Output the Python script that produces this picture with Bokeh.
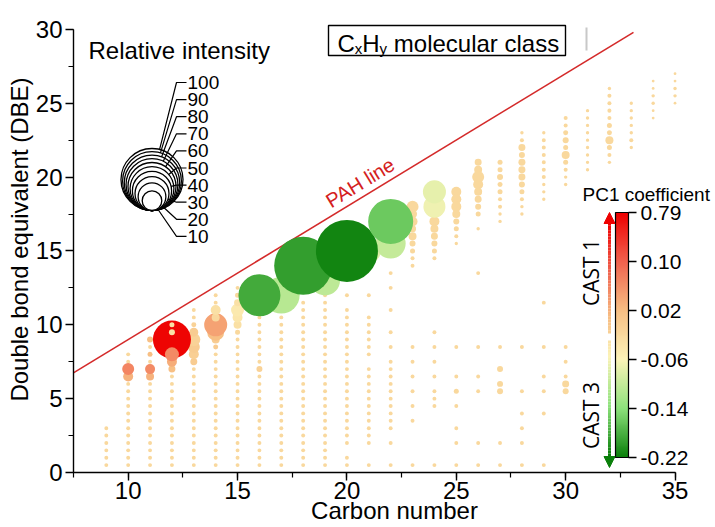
import numpy as np
from bokeh.plotting import figure
from bokeh.models import (ColumnDataSource, LinearColorMapper, ColorBar, FixedTicker,
                          Label, Arrow, NormalHead, Range1d, BoxAnnotation,
                          SingleIntervalTicker)
from bokeh.transform import linear_cmap
from bokeh.embed import file_html
from bokeh.resources import INLINE

# ---------------- colour scale (PC1 coefficient) ----------------
pc1_ticks = [-0.22, -0.14, -0.06, 0.02, 0.10, 0.79]
pc1_tick_labels = ["-0.22", "-0.14", "-0.06", "0.02", "0.10", "0.79"]
pc1_colors = ["#0a7f0a", "#8ee27c", "#fcf3b8", "#f7bf84", "#f0624e", "#ee0000"]

# ---------------- small dots: DBE values per carbon number ----------------
col_09 = [0.5, 1, 1.5, 2, 2.5, 3]
col_10 = [0.5, 1, 1.5, 2, 2.5, 3, 3.5, 4, 4.5, 5, 5.5, 6, 7.5, 8]
col_11 = [0.5, 1, 1.5, 2, 2.5, 3, 3.5, 4, 4.5, 5, 5.5, 6, 7.5, 8.5]
col_12 = [0.5, 1, 1.5, 2, 2.5, 3, 3.5, 4, 4.5, 5, 5.5, 6, 6.5]
col_13 = [0.5, 1, 1.5, 2, 2.5, 3, 3.5, 4, 4.5, 5, 5.5, 6, 6.5, 7, 10.5, 11]
col_14 = [0.5, 1, 1.5, 2, 2.5, 3, 3.5, 4, 4.5, 5, 5.5, 6, 6.5, 7, 7.5, 8, 11.5, 12]
col_15 = [0.5, 1, 1.5, 2, 2.5, 3, 3.5, 4, 4.5, 5, 5.5, 6, 6.5, 7, 7.5, 8, 8.5, 9, 12.5]
col_16 = [0.5, 1, 1.5, 2, 2.5, 3, 3.5, 4, 4.5, 5, 5.5, 6, 6.5, 7.5, 8, 8.5, 9, 9.5, 10, 10.5]
col_17 = [0.5, 1, 1.5, 2, 2.5, 3, 3.5, 4, 4.5, 5, 5.5, 6, 6.5, 7, 7.5, 8, 8.5, 9, 9.5, 10, 10.5]
col_18 = [0.5, 1, 1.5, 2, 2.5, 3, 3.5, 4, 4.5, 5, 5.5, 6, 6.5, 7, 7.5, 8, 8.5, 9, 9.5, 10, 10.5, 11, 11.5]
col_19 = [0.5, 1, 1.5, 2, 2.5, 3, 3.5, 4, 4.5, 5, 5.5, 6, 6.5, 7, 7.5, 8, 8.5, 9, 9.5, 10, 10.5, 11, 11.5, 12]
col_20 = [0.5, 1, 2, 2.5, 3, 3.5, 4, 4.5, 5, 5.5, 6, 6.5, 7, 7.5, 8, 8.5, 9, 9.5, 10, 10.5, 11, 12]
col_21 = [0.5, 2, 2.5, 3, 3.5, 4, 4.5, 5, 5.5, 6, 6.5, 7, 8, 8.5, 9, 9.5, 10, 10.5, 12]
col_22 = [0.5, 2, 3, 3.5, 4, 4.5, 5, 5.5, 6, 6.5, 7, 7.5, 8.5, 9.5, 11, 12.5, 13.5]
col_23 = [0.5, 3.5, 4.5, 5.5, 6.5, 7.5, 8.5, 14]
col_24 = [0.5, 4.5, 5, 5.5, 6.5, 7.5, 8.5, 9.5]
col_25 = [0.5, 2, 3, 4.5, 6.5, 8.5]
col_26 = [0.5, 2, 5.5, 6.5, 8.5, 13.5]
col_27 = [0.5, 2, 8.5]
col_28 = [0.5, 2, 3, 4, 5.5, 8.5]
col_29 = [0.5, 4, 5.5, 6.5, 8.5, 11.5]
col_30 = [6.5, 7.5, 8.5]
small_cols = {9: col_09, 10: col_10, 11: col_11, 12: col_12, 13: col_13, 14: col_14,
              15: col_15, 16: col_16, 17: col_17, 18: col_18, 19: col_19, 20: col_20,
              21: col_21, 22: col_22, 23: col_23, 24: col_24, 25: col_25, 26: col_26,
              27: col_27, 28: col_28, 29: col_29, 30: col_30}
small_int = 0.4      # relative intensity of the faint dots
small_pc1 = -0.02    # PC1 coefficient of the faint dots

# ---------------- upper-right clusters: (DBE, relative intensity) ----------------
up_23 = [(18, 3.75), (17.5, 2.1), (17, 2.6), (16.5, 1.3), (16, 1.66), (15.5, 0.94), (15, 0.65), (14.5, 0.42)]
up_24 = [(17, 2.6), (16.5, 1.66), (16, 1.27), (15.5, 0.94), (15, 0.65), (14.5, 0.42)]
up_25 = [(19, 2.6), (18.5, 2.6), (18, 2.6), (17.5, 1.66), (17, 0.94), (16.5, 0.65), (16, 0.42), (15.5, 0.3), (5.5, 0.65)]
up_26 = [(21, 1.27), (20.5, 1.66), (20, 3.75), (19.5, 2.6), (19, 1.66), (18.5, 1.27), (18, 0.94), (17.5, 0.65), (16.5, 0.3)]
up_27 = [(21, 0.65), (20.5, 0.65), (20, 0.94), (19.5, 0.65), (19, 0.65), (18.5, 0.42), (18, 0.42), (17.5, 0.3), (17, 0.3),
         (7, 0.94), (6, 0.94), (5.5, 0.94)]
up_28 = [(23, 0.3), (22.5, 0.42), (22, 1.27), (21.5, 0.94), (21, 1.27), (20.5, 1.27), (20, 1.27), (19.5, 0.94),
         (19, 0.65), (18.5, 0.42), (18, 0.3), (17.5, 0.3)]
up_29 = [(23, 0.3), (22.5, 0.42), (22, 0.42), (21.5, 0.42), (21, 0.42), (20.5, 0.42), (20, 0.42), (19.5, 0.3), (19, 0.3), (18.5, 0.3)]
up_30 = [(24, 0.42), (23.5, 0.42), (23, 0.65), (22.5, 0.94), (22, 0.65), (21.5, 1.66), (21, 0.65), (20.5, 0.42),
         (20, 0.3), (19.5, 0.3), (6, 1.27), (5.5, 0.94)]
up_31 = [(24.5, 0.3), (24, 0.3), (23.5, 0.3), (23, 0.3), (22.5, 0.3), (22, 0.3), (21.5, 0.3), (21, 0.3), (20.5, 0.3)]
up_32 = [(26, 0.3), (25.5, 0.42), (25, 0.42), (24.5, 0.42), (24, 0.42), (23.5, 0.65), (23, 0.65), (22.5, 1.66),
         (22, 0.65), (21.5, 0.42), (21, 0.3)]
up_33 = [(25, 0.3), (24.5, 0.3), (24, 0.3), (23.5, 0.3), (23, 0.3), (22.5, 0.42), (22, 0.3)]
up_34 = [(26.5, 0.2), (26, 0.2), (25.5, 0.3), (25, 0.3), (24.5, 0.2), (24, 0.2)]
up_35 = [(27, 0.2), (26.5, 0.2), (26, 0.3), (25.5, 0.3), (25, 0.2)]
up_cols = {23: up_23, 24: up_24, 25: up_25, 26: up_26, 27: up_27, 28: up_28, 29: up_29,
           30: up_30, 31: up_31, 32: up_32, 33: up_33, 34: up_34, 35: up_35}
up_pc1 = -0.02

# ---------------- highlighted bubbles (draw order) ----------------
hl_c   = [10, 10, 11, 11, 11, 11,
          13, 13, 13, 13, 13, 13,
          14, 14, 14, 14, 14, 14,
          15, 15, 15, 15, 15, 15, 16,
          24, 24, 17, 19, 21, 22,
          16, 18, 20, 22,
          12, 12, 12, 12, 12, 12]
hl_dbe = [6.5, 7, 6.5, 7, 8, 9,
          7.5, 8, 8.5, 9, 9.5, 10,
          8.5, 9, 9.5, 10, 10.5, 11,
          9.5, 10, 10.5, 11, 11.5, 12, 7,
          18, 19, 12, 13, 15, 15.5,
          12, 14, 15, 17,
          9, 7, 7.5, 8, 9.5, 10]
hl_int = [2.6, 3.75, 1.66, 2.6, 0.65, 0.94,
          1.27, 2.6, 3.75, 4.4, 2.1, 0.65,
          0.65, 1.66, 7.5, 13.8, 1.66, 2.6,
          0.65, 1.66, 2.6, 4.4, 1.27, 0.65, 0.94,
          12.6, 13.8, 35.0, 23.4, 15.0, 23.4,
          45.9, 87.5, 100, 52.7,
          37.6, 1.27, 2.6, 5.1, 0.94, 0.65]
hl_pc1 = [0.03, 0.07, 0.03, 0.065, 0.02, 0.02,
          0.0, -0.005, 0.0, -0.01, 0.0, -0.01,
          0.0, 0.0, 0.02, 0.045, -0.02, -0.03,
          -0.02, -0.03, -0.04, -0.045, -0.03, -0.02, -0.01,
          -0.07, -0.075, -0.11, -0.105, -0.08, -0.1,
          -0.185, -0.195, -0.215, -0.16,
          0.75, 0.02, 0.035, 0.065, -0.03, -0.03]

# ---------------- PAH line and legend ----------------
pah_c = [7.0, 33.1]
pah_dbe = [6.3, 29.8]
legend_vals = [100, 90, 80, 70, 60, 50, 40, 30, 20, 10]

# ---------------- helpers ----------------
def _rgb(h):
    return tuple(int(h[i:i + 2], 16) for i in (1, 3, 5))

anchor_rgb = [_rgb(c) for c in pc1_colors]

def color_at(t):
    t = min(max(t, 0.0), 5.0)
    i = min(int(t), 4)
    f = t - i
    a, b = anchor_rgb[i], anchor_rgb[i + 1]
    return "#%02x%02x%02x" % tuple(int(round(a[k] + (b[k] - a[k]) * f)) for k in range(3))

palette = [color_at(5 * i / 255) for i in range(256)]

def diam(rel):
    return 62.0 * np.sqrt(np.asarray(rel, dtype=float) / 100.0)

def cidx(v):
    return np.interp(v, pc1_ticks, list(range(6)))

# assemble points
C, D, I, P = [], [], [], []
for c, vals in small_cols.items():
    for d in vals:
        C.append(c); D.append(d); I.append(small_int); P.append(small_pc1)
for c, vals in up_cols.items():
    for d, r in vals:
        C.append(c); D.append(d); I.append(r); P.append(up_pc1)
C += hl_c; D += hl_dbe; I += hl_int; P += hl_pc1

src = ColumnDataSource(dict(c=C, dbe=D, size=diam(I), cidx=cidx(P)))

# ---------------- figure geometry ----------------
FW, FH = 642, 466
x_lo, x_hi = 7.5, 36.85
y_lo, y_hi = 0.0, 31.55
L_PX, B_PX = 73, 472
kx = FW / (x_hi - x_lo)
ky = FH / (y_hi - y_lo)

def sx(px):
    return x_lo + (px - L_PX) / kx

def sy(py):
    return y_lo + (B_PX - py) / ky

FONT = "Liberation Sans"

p = figure(frame_width=FW, frame_height=FH,
           x_range=Range1d(x_lo, x_hi), y_range=Range1d(y_lo, y_hi),
           output_backend="svg", toolbar_location=None,
           min_border_left=L_PX, min_border_right=0, min_border_top=6, min_border_bottom=55)
p.grid.visible = False
p.outline_line_color = None
p.background_fill_color = "white"

for ax in (p.xaxis[0], p.yaxis[0]):
    ax.ticker = SingleIntervalTicker(interval=5, num_minor_ticks=2)
    ax.axis_line_width = 1.4
    ax.major_tick_line_width = 1.4
    ax.minor_tick_line_width = 1.2
    ax.major_tick_out = 8
    ax.major_tick_in = 0
    ax.minor_tick_out = 5
    ax.minor_tick_in = 0
    ax.major_label_text_font = FONT
    ax.major_label_text_font_size = "24px"
    ax.major_label_text_color = "black"
    ax.axis_label_text_font = FONT
    ax.axis_label_text_font_size = "24px"
    ax.axis_label_text_font_style = "normal"
    ax.axis_label_text_color = "black"
    ax.major_label_standoff = 1

p.xaxis.bounds = (7.5, 35)
p.yaxis.bounds = (0, 30)
p.xaxis.axis_label = "Carbon number"
p.yaxis.axis_label = "Double bond equivalent (DBE)"
p.xaxis.axis_label_standoff = -5
p.yaxis.axis_label_standoff = 0
p.yaxis.major_label_standoff = 3

# PAH line
p.line(pah_c, pah_dbe, line_color="#d42a2a", line_width=1.6)

# data bubbles
p.scatter("c", "dbe", size="size", source=src, line_color=None,
          fill_color=linear_cmap("cidx", palette, 0, 5))

# ---------------- texts ----------------
def label(**kw):
    kw.setdefault("text_color", "black")
    kw.setdefault("text_font", FONT)
    p.add_layout(Label(**kw))

label(x=sx(327), y=sy(202), text="PAH line", angle=0.546, text_font_size="20px",
      text_color="#d42020", text_align="left", text_baseline="alphabetic")

label(x=sx(88), y=sy(50), text="Relative intensity", text_font_size="24px",
      text_baseline="alphabetic")

# title box "CxHy molecular class"
p.add_layout(BoxAnnotation(left=sx(328), right=sx(565), top=sy(25), bottom=sy(55),
                           fill_alpha=0, line_color="black", line_alpha=1.0, line_width=1.4))
x0 = 337
pieces = [("C", 0, 24, 0), ("x", 17.3, 15, 5), ("H", 24.8, 24, 0), ("y", 42.1, 15, 5),
          ("molecular class", 56.3, 24, 0)]
for txt, dx, fs, dy in pieces:
    label(x=sx(x0 + dx), y=sy(43 + dy), text=txt, text_font_size=f"{fs}px",
          text_baseline="alphabetic")
p.segment(x0=[sx(586)], y0=[sy(27)], x1=[sx(586)], y1=[sy(50)],
          line_color="#c8c8c8", line_width=2)

# ---------------- size legend ----------------
leg_d = diam(legend_vals)
leg_cx_px, leg_bottom_px = 151.5, 210.0
leg_cy_px = leg_bottom_px - leg_d / 2
p.scatter([sx(leg_cx_px)] * len(legend_vals), [sy(v) for v in leg_cy_px], size=leg_d,
          fill_color="white", line_color="black", line_width=1.3)
xs, ys = [], []
for k, v in enumerate(legend_vals):
    ly = 82 + k * 17.1
    ax_, ay_ = 176.0, ly
    cxp, cyp, r = leg_cx_px, leg_cy_px[k], leg_d[k] / 2
    dx_, dy_ = ax_ - cxp, ay_ - cyp
    n = np.hypot(dx_, dy_)
    ex, ey = cxp + r * dx_ / n, cyp + r * dy_ / n
    xs.append([sx(ex), sx(ax_), sx(186)])
    ys.append([sy(ey), sy(ay_), sy(ay_)])
    label(x=sx(187), y=sy(ly), text=str(v), text_font_size="19px", text_baseline="middle")
p.multi_line(xs, ys, line_color="black", line_width=1.2)

# ---------------- colour bar ----------------
mapper = LinearColorMapper(palette=palette, low=0, high=5)
cb = ColorBar(color_mapper=mapper, ticker=FixedTicker(ticks=[0, 1, 2, 3, 4, 5]),
              major_label_overrides={i: lab for i, lab in enumerate(pc1_tick_labels)},
              width=13, height=245, location=(542, 15), padding=0, margin=0,
              background_fill_alpha=0, border_line_color=None,
              bar_line_color="black", bar_line_width=1.2,
              major_tick_line_color="black", major_tick_line_width=1.4,
              major_tick_out=8, major_tick_in=0, minor_tick_line_color=None,
              label_standoff=4, major_label_text_font=FONT,
              major_label_text_font_size="21px", major_label_text_color="black")
p.add_layout(cb)

label(x=sx(582), y=sy(194), text="PC1 coefficient", text_font_size="19px",
      text_baseline="alphabetic")

# gradient arrows next to the colour bar
arr_x = sx(609)
n_seg = 40
red_y = np.linspace(sy(333), sy(222), n_seg + 1)
red_t = np.linspace(2.7, 5.0, n_seg)
grn_y = np.linspace(sy(340), sy(456), n_seg + 1)
grn_t = np.linspace(2.3, 0.0, n_seg)
seg_x0 = [arr_x] * (2 * n_seg)
seg_y0 = list(red_y[:-1]) + list(grn_y[:-1])
seg_y1 = list(red_y[1:]) + list(grn_y[1:])
seg_col = [color_at(t) for t in red_t] + [color_at(t) for t in grn_t]
p.segment(x0=seg_x0, y0=seg_y0, x1=seg_x0, y1=seg_y1, line_color=seg_col, line_width=3)
p.add_layout(Arrow(end=NormalHead(size=11, fill_color="#ee0000", line_color="#ee0000"),
                   x_start=arr_x, y_start=sy(224), x_end=arr_x, y_end=sy(212),
                   line_color="#ee0000", line_width=3))
p.add_layout(Arrow(end=NormalHead(size=11, fill_color="#0a7f0a", line_color="#0a7f0a"),
                   x_start=arr_x, y_start=sy(454), x_end=arr_x, y_end=sy(467),
                   line_color="#0a7f0a", line_width=3))

label(x=sx(590), y=sy(272), text="CAST 1", angle=np.pi / 2, text_font="Open Sans",
      text_font_size="21px", text_align="center", text_baseline="middle")
label(x=sx(590), y=sy(415), text="CAST 3", angle=np.pi / 2, text_font="Open Sans",
      text_font_size="21px", text_align="center", text_baseline="middle")

open("out.html", "w").write(file_html(p, INLINE))
